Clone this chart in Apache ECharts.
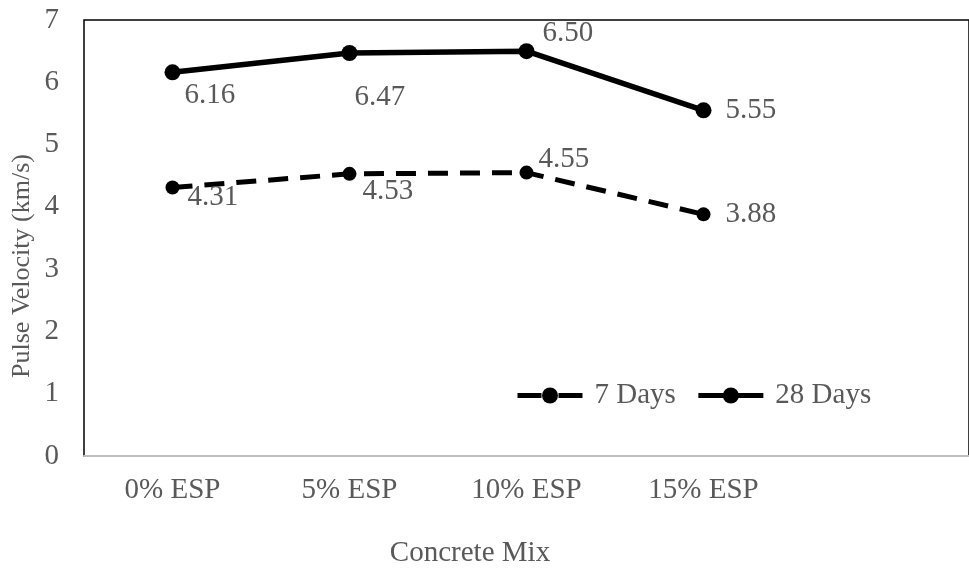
<!DOCTYPE html>
<html>
<head>
<meta charset="utf-8">
<script src="https://cdn.jsdelivr.net/npm/echarts@6/dist/echarts.min.js"></script>
<style>html,body{margin:0;padding:0;background:#fff}#c{width:969px;height:571px}</style>
</head>
<body>
<div id="c"></div>
<script>
const categories = ['0% ESP', '5% ESP', '10% ESP', '15% ESP', ''];
const days7 = [4.31, 4.53, 4.55, 3.88];
const days28 = [6.16, 6.47, 6.50, 5.55];
const yTicks = [0, 1, 2, 3, 4, 5, 6, 7];
const labelOffsets7 = [[8, 10], [6, 18], [5, -13], [15, 0]];
const labelOffsets28 = [[4, 23], [-3, 44], [8, -18], [14, 0]];

const font = '"Liberation Serif", "Times New Roman", serif';
const grey = '#595959';
const FS = 29;

function mk(vals, offs) {
  return vals.map((v, i) => ({
    value: v,
    label: { offset: offs[i] }
  }));
}

const chart = echarts.init(document.getElementById('c'));
chart.setOption({
  animation: false,
  grid: { left: 84, right: -11, top: 20, bottom: 115, show: true, borderColor: '#000', borderWidth: 1.5 },
  xAxis: {
    type: 'category',
    data: categories,
    boundaryGap: true,
    axisLine: { lineStyle: { color: '#bfbfbf', width: 2 } },
    axisTick: { show: false },
    axisLabel: { color: grey, fontFamily: font, fontSize: FS, margin: 20 }
  },
  yAxis: {
    type: 'value',
    min: yTicks[0],
    max: yTicks[yTicks.length - 1],
    interval: 1,
    axisLine: { show: false },
    axisTick: { show: false },
    splitLine: { show: false },
    axisLabel: { color: grey, fontFamily: font, fontSize: FS, margin: 25 }
  },
  legend: {
    left: 515, top: 381, padding: 0,
    itemWidth: 65, itemHeight: 20, itemGap: 20,
    lineStyle: { width: 5 },
    textStyle: { color: grey, fontFamily: font, fontSize: FS, padding: [0, 0, 0, 7] },
    data: [
      { name: '7 Days', lineStyle: { type: [24, 17, 24, 0], width: 5 } },
      { name: '28 Days' }
    ]
  },
  graphic: [
    { type: 'text', x: 470, y: 553,
      style: { text: 'Concrete Mix', fill: grey, font: FS + 'px ' + font, textAlign: 'center', textVerticalAlign: 'middle' } },
    { type: 'text', x: 22, y: 266, rotation: Math.PI / 2,
      style: { text: 'Pulse Velocity (km/s)', fill: grey, font: '26px ' + font, textAlign: 'center', textVerticalAlign: 'middle' } }
  ],
  series: [
    {
      name: '7 Days', type: 'line', data: mk(days7, labelOffsets7),
      symbol: 'circle', symbolSize: 14,
      itemStyle: { color: '#000' },
      lineStyle: { color: '#000', width: 5, type: [20, 12] },
      label: { show: true, position: 'right', distance: 0, color: grey, fontFamily: font, fontSize: FS,
        formatter: p => p.value.toFixed(2) }
    },
    {
      name: '28 Days', type: 'line', data: mk(days28, labelOffsets28),
      symbol: 'circle', symbolSize: 16,
      itemStyle: { color: '#000' },
      lineStyle: { color: '#000', width: 5.5 },
      label: { show: true, position: 'right', distance: 0, color: grey, fontFamily: font, fontSize: FS,
        formatter: p => p.value.toFixed(2) }
    }
  ]
});
</script>
</body>
</html>
